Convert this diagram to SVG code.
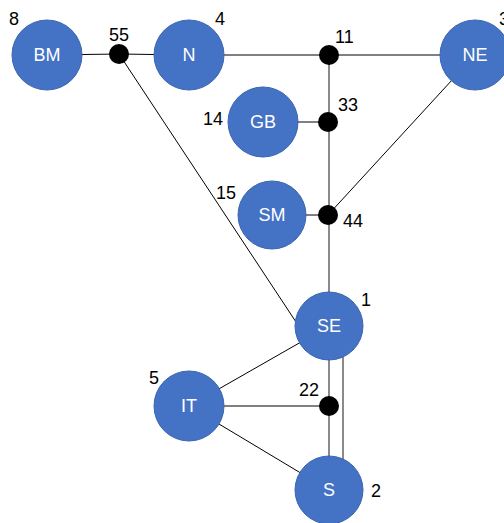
<svg xmlns="http://www.w3.org/2000/svg" width="504" height="523" viewBox="0 0 504 523">
<style>
.n{fill:#4472C4;stroke:#3B65B0;stroke-width:1}
.t{font-family:"Liberation Sans",Arial,sans-serif;font-size:18px;fill:#fff;text-anchor:middle;dominant-baseline:central}
.l{font-family:"Liberation Sans",Arial,sans-serif;font-size:18px;fill:#000}
.e{stroke:#000;stroke-width:1;fill:none}
.g{stroke:#8a8a8a;stroke-width:2;fill:none}
.d{fill:#000}
</style>
<rect width="504" height="523" fill="#fff"/>
<g id="connectors">
<line class="e" x1="47" y1="55" x2="119" y2="54"/>
<line class="e" x1="119" y1="54" x2="189" y2="55"/>
<line class="e" x1="189" y1="55" x2="475" y2="55"/>
<line class="e" x1="119" y1="54" x2="296" y2="322"/>
<line class="e" x1="475" y1="55" x2="328" y2="215"/>
<line class="e" x1="263" y1="122" x2="328" y2="122"/>
<line class="e" x1="272" y1="215" x2="328" y2="215"/>
<line class="g" x1="329" y1="55" x2="329" y2="326"/>
<line class="e" x1="189" y1="406" x2="329" y2="326"/>
<line class="e" x1="189" y1="406" x2="329" y2="406"/>
<line class="e" x1="189" y1="406" x2="329" y2="490"/>
<line class="g" x1="329" y1="355" x2="329" y2="460"/>
<line class="g" x1="343" y1="355" x2="343" y2="460"/>
</g>
<g id="node-BM"><circle class="n" cx="47" cy="55" r="35"/><text class="t" x="47" y="55">BM</text><text class="l" x="9" y="25">8</text></g>
<g id="node-55"><circle class="d" cx="119" cy="54" r="10"/><text class="l" x="109" y="41">55</text></g>
<g id="node-N"><circle class="n" cx="189" cy="55" r="35"/><text class="t" x="189" y="55">N</text><text class="l" x="215" y="25">4</text></g>
<g id="node-11"><circle class="d" cx="329" cy="55" r="10"/><text class="l" x="335" y="43">11</text></g>
<g id="node-NE"><circle class="n" cx="475" cy="55" r="35"/><text class="t" x="475" y="55">NE</text><text class="l" x="499" y="25">3</text></g>
<g id="node-GB"><circle class="n" cx="263" cy="122" r="35"/><text class="t" x="263" y="122">GB</text><text class="l" x="203" y="125">14</text></g>
<g id="node-33"><circle class="d" cx="328" cy="122" r="10"/><text class="l" x="338" y="111">33</text></g>
<g id="node-SM"><circle class="n" cx="272" cy="215" r="34"/><text class="t" x="272" y="215">SM</text><text class="l" x="216" y="199">15</text></g>
<g id="node-44"><circle class="d" cx="328" cy="215" r="10"/><text class="l" x="343" y="227">44</text></g>
<g id="node-SE"><circle class="n" cx="329" cy="326" r="34"/><text class="t" x="329" y="326">SE</text><text class="l" x="361" y="306">1</text></g>
<g id="node-IT"><circle class="n" cx="189" cy="406" r="35"/><text class="t" x="189" y="406">IT</text><text class="l" x="149" y="384">5</text></g>
<g id="node-22"><circle class="d" cx="329" cy="406" r="10"/><text class="l" x="299" y="396">22</text></g>
<g id="node-S"><circle class="n" cx="329" cy="490" r="34"/><text class="t" x="329" y="490">S</text><text class="l" x="371" y="497">2</text></g>
</svg>
